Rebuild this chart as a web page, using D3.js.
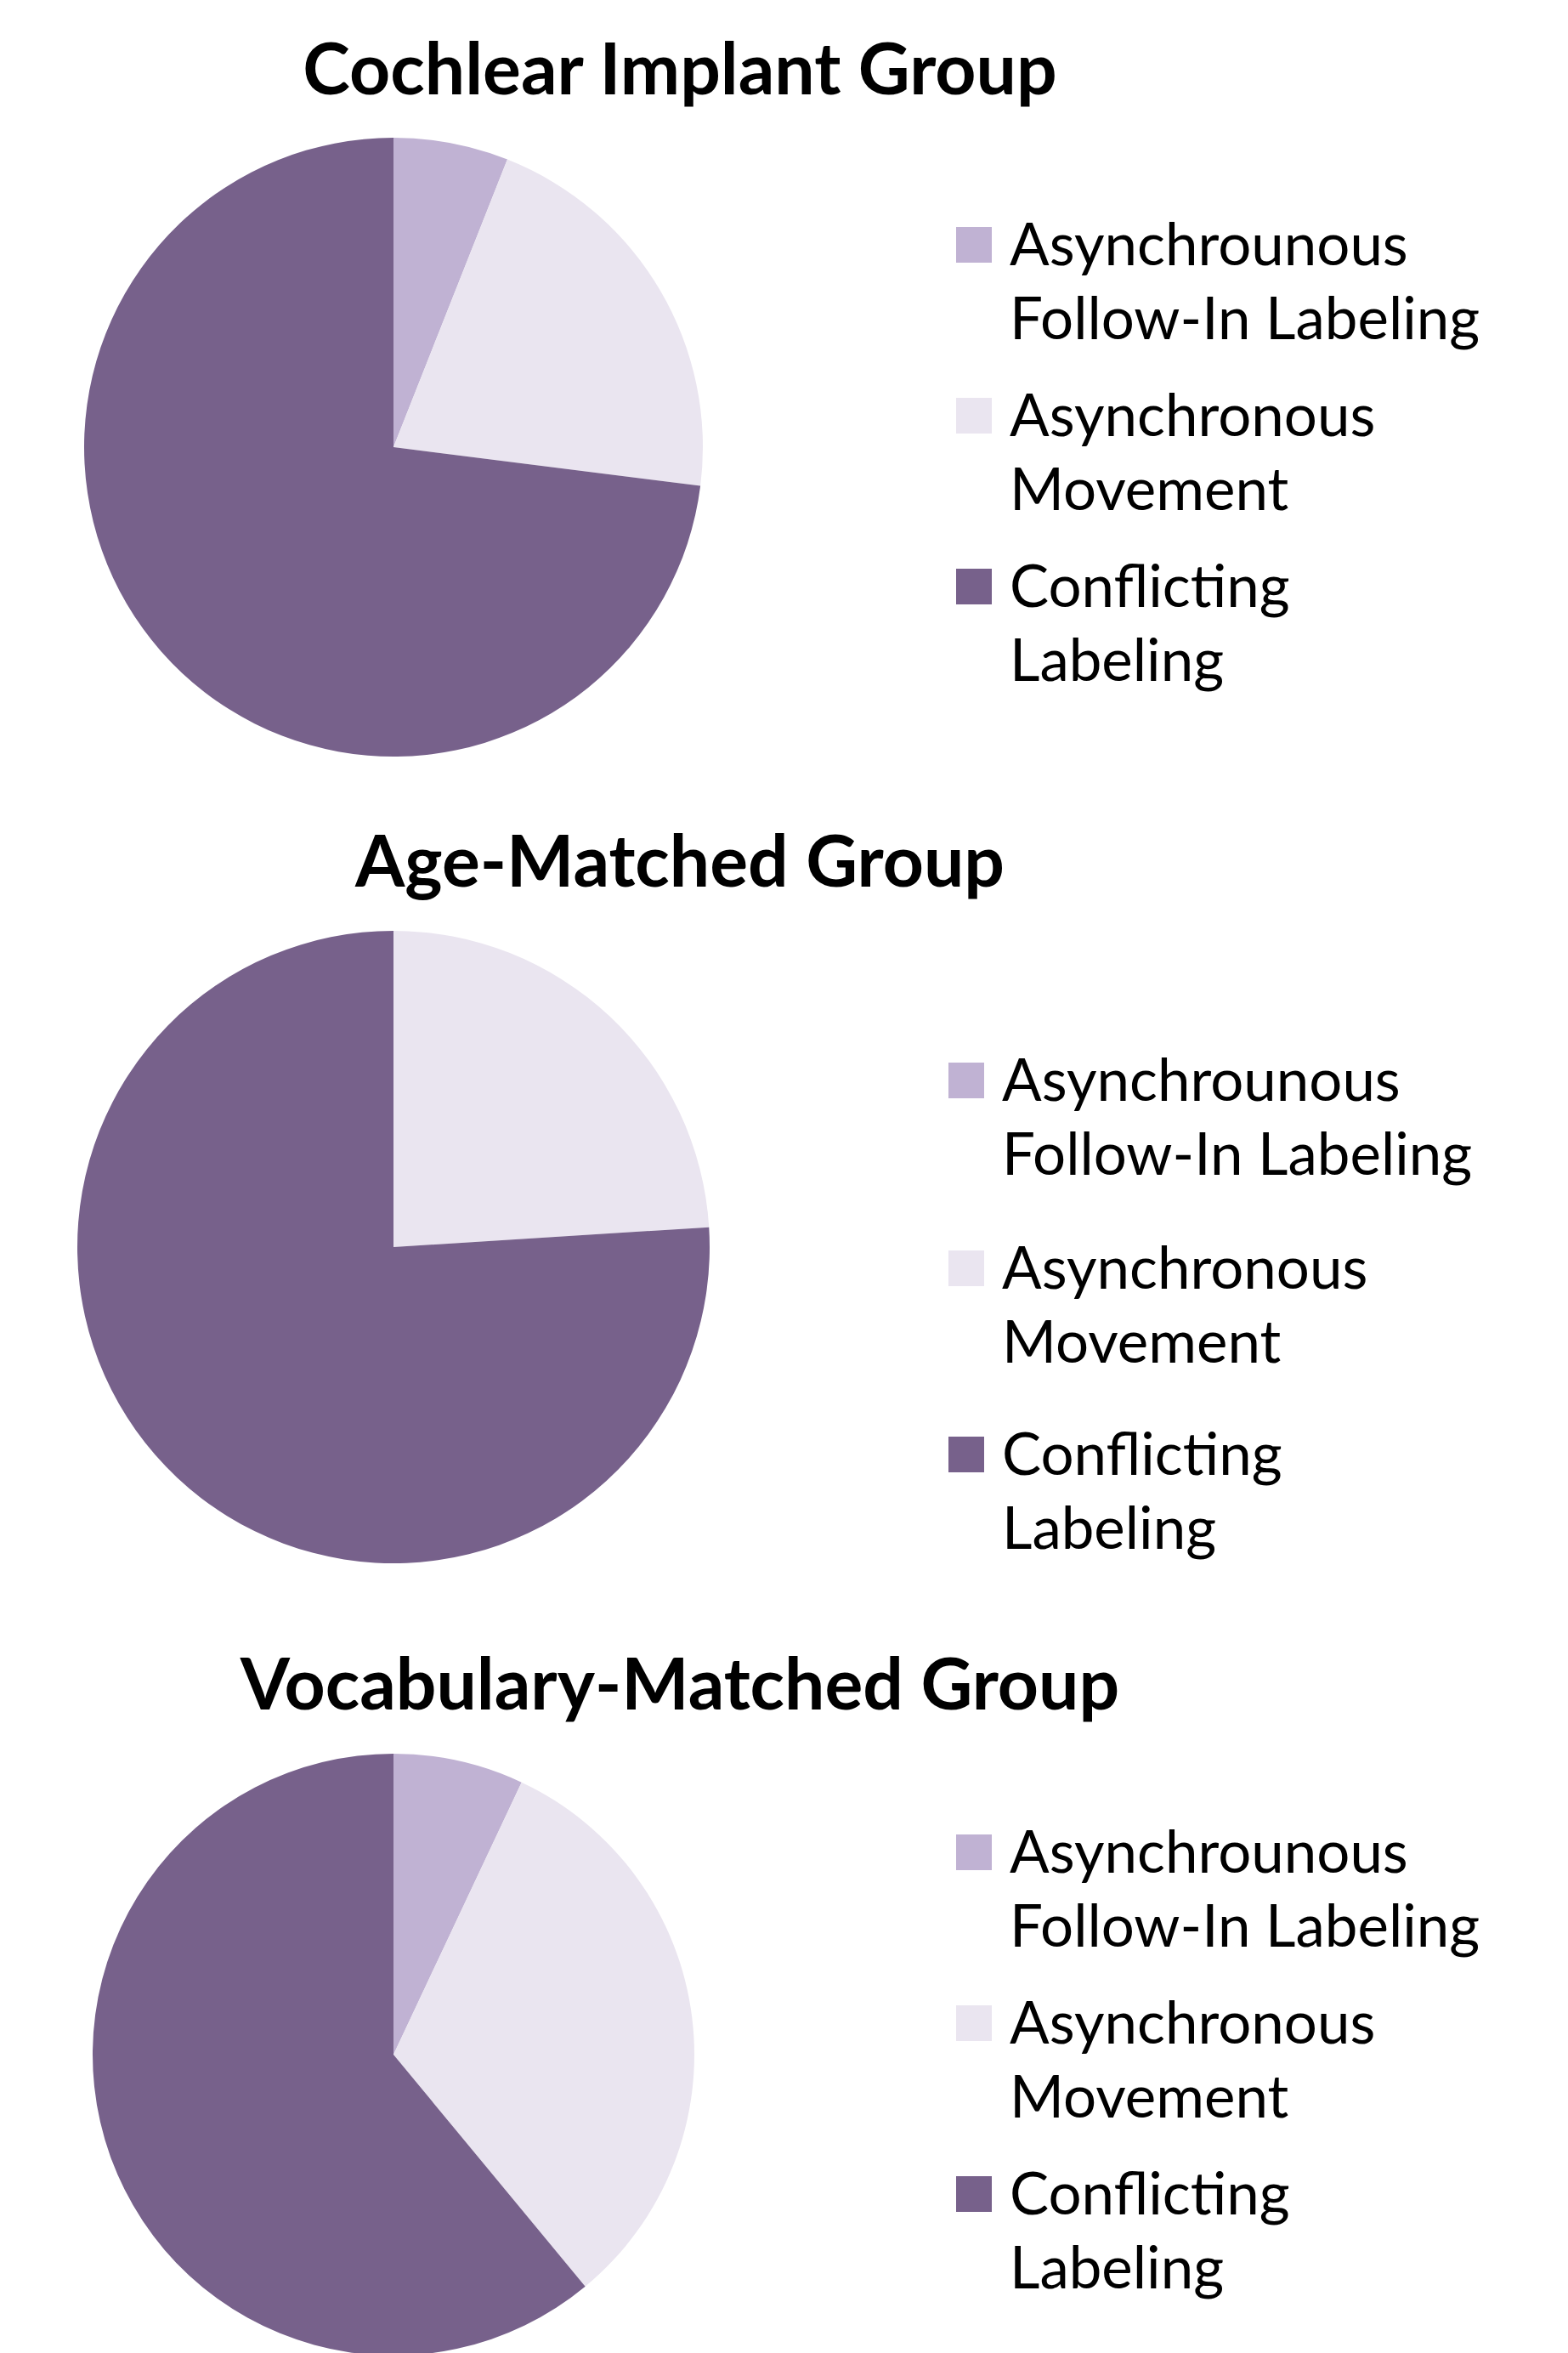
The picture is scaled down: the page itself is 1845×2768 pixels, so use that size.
<!DOCTYPE html>
<html>
<head>
<meta charset="utf-8">
<script src="https://cdn.jsdelivr.net/npm/d3@7"></script>
<style>
  html, body { margin: 0; padding: 0; background: #ffffff; }
  #vis_container { width: 1845px; height: 2768px; }
</style>
</head>
<body>
<div id="vis_container"></div>
<script>
// data
var groups = ["Cochlear Implant Group", "Age-Matched Group", "Vocabulary-Matched Group"];
var categories = ["Asynchrounous Follow-In Labeling", "Asynchronous Movement", "Conflicting Labeling"];
var legendLines = [["Asynchrounous", "Follow-In Labeling"], ["Asynchronous", "Movement"], ["Conflicting", "Labeling"]];
var cochlearValues = [6, 21, 73];
var ageMatchedValues = [0, 24, 76];
var vocabularyValues = [7, 32, 61];
var groupValues = [cochlearValues, ageMatchedValues, vocabularyValues];

var colors = ["#c0b2d3", "#eae5f0", "#77618b"];

// panel layout
var panels = [
  { titleY: 111, cx: 463, cy: 526, r: 364, boxX: 1125, textX: 1188, itemY: [288, 489, 690] },
  { titleY: 1043, cx: 463, cy: 1467, r: 372, boxX: 1116, textX: 1179, itemY: [1271, 1492, 1711] },
  { titleY: 2011, cx: 463, cy: 2417, r: 354, boxX: 1125, textX: 1188, itemY: [2179, 2380, 2581] }
];

var width = 1845, height = 2768;
var lineGap = 87, boxSize = 42;

var svg = d3.select("#vis_container").append("svg")
  .attr("width", width)
  .attr("height", height)
  .style("background-color", "#FFFFFF");

var color = d3.scaleOrdinal().domain(categories).range(colors);

var pie = d3.pie().sort(null).value(function(d) { return d.value; });

groups.forEach(function(name, g) {
  var p = panels[g];
  var data = categories.map(function(c, i) { return { cat: c, value: groupValues[g][i] }; });

  svg.append("text")
    .attr("x", 800)
    .attr("y", p.titleY)
    .attr("text-anchor", "middle")
    .style("font-family", "Lato, 'Open Sans', sans-serif")
    .style("font-weight", "bold")
    .style("font-size", "84px")
    .text(name);

  var arc = d3.arc().innerRadius(0).outerRadius(p.r);
  svg.append("g")
    .attr("transform", "translate(" + p.cx + "," + p.cy + ")")
    .selectAll("path")
    .data(pie(data))
    .enter().append("path")
      .attr("d", arc)
      .attr("fill", function(d) { return color(d.data.cat); });

  var legend = svg.append("g");
  categories.forEach(function(c, i) {
    var y = p.itemY[i];
    legend.append("rect")
      .attr("x", p.boxX)
      .attr("y", y - boxSize / 2)
      .attr("width", boxSize)
      .attr("height", boxSize)
      .attr("fill", color(c));
    legendLines[i].forEach(function(line, k) {
      legend.append("text")
        .attr("x", p.textX)
        .attr("y", y + k * lineGap)
        .attr("dy", "0.35em")
        .style("font-family", "Lato, 'Open Sans', sans-serif")
        .style("font-size", "69px")
        .text(line);
    });
  });
});
</script>
</body>
</html>
